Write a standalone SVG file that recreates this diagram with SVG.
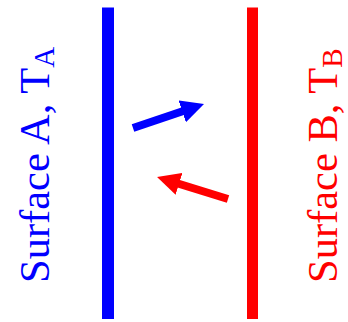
<svg xmlns="http://www.w3.org/2000/svg" width="348" height="322" viewBox="0 0 348 322">
<style>
text{font-family:"Liberation Serif","Times New Roman","DejaVu Serif",serif;font-size:42.5px}
.sub{font-size:29px}
.blue{fill:#0000ff}
.red{fill:#ff0000}
</style>
<defs>
<marker id="hb" markerUnits="userSpaceOnUse" viewBox="0 0 23 23" refX="2" refY="11.5" markerWidth="23" markerHeight="23" orient="auto"><path d="M0,0 L23,11.5 L0,23 z" fill="#0000ff"/></marker>
<marker id="hr" markerUnits="userSpaceOnUse" viewBox="0 0 23 23" refX="2" refY="11.5" markerWidth="23" markerHeight="23" orient="auto"><path d="M0,0 L23,11.5 L0,23 z" fill="#ff0000"/></marker>
</defs>
<g id="surfaceA">
<line x1="108" y1="7.5" x2="108" y2="319" stroke="#0000ff" stroke-width="12"/>
<text class="blue" font-family="Liberation Serif, serif" transform="translate(49,283) rotate(-90)">Surface A, T<tspan class="sub" dy="5">A</tspan></text>
</g>
<g id="surfaceB">
<line x1="252.5" y1="7.5" x2="252.5" y2="319" stroke="#ff0000" stroke-width="11"/>
<text class="red" font-family="Liberation Serif, serif" transform="translate(337,283) rotate(-90)">Surface B, T<tspan class="sub" dy="5">B</tspan></text>
</g>
<g id="connectors">
<line x1="133" y1="128" x2="184.1" y2="110.8" stroke="#0000ff" stroke-width="8" marker-end="url(#hb)"/>
<line x1="228" y1="199" x2="177.1" y2="183.2" stroke="#ff0000" stroke-width="8" marker-end="url(#hr)"/>
</g>
</svg>
